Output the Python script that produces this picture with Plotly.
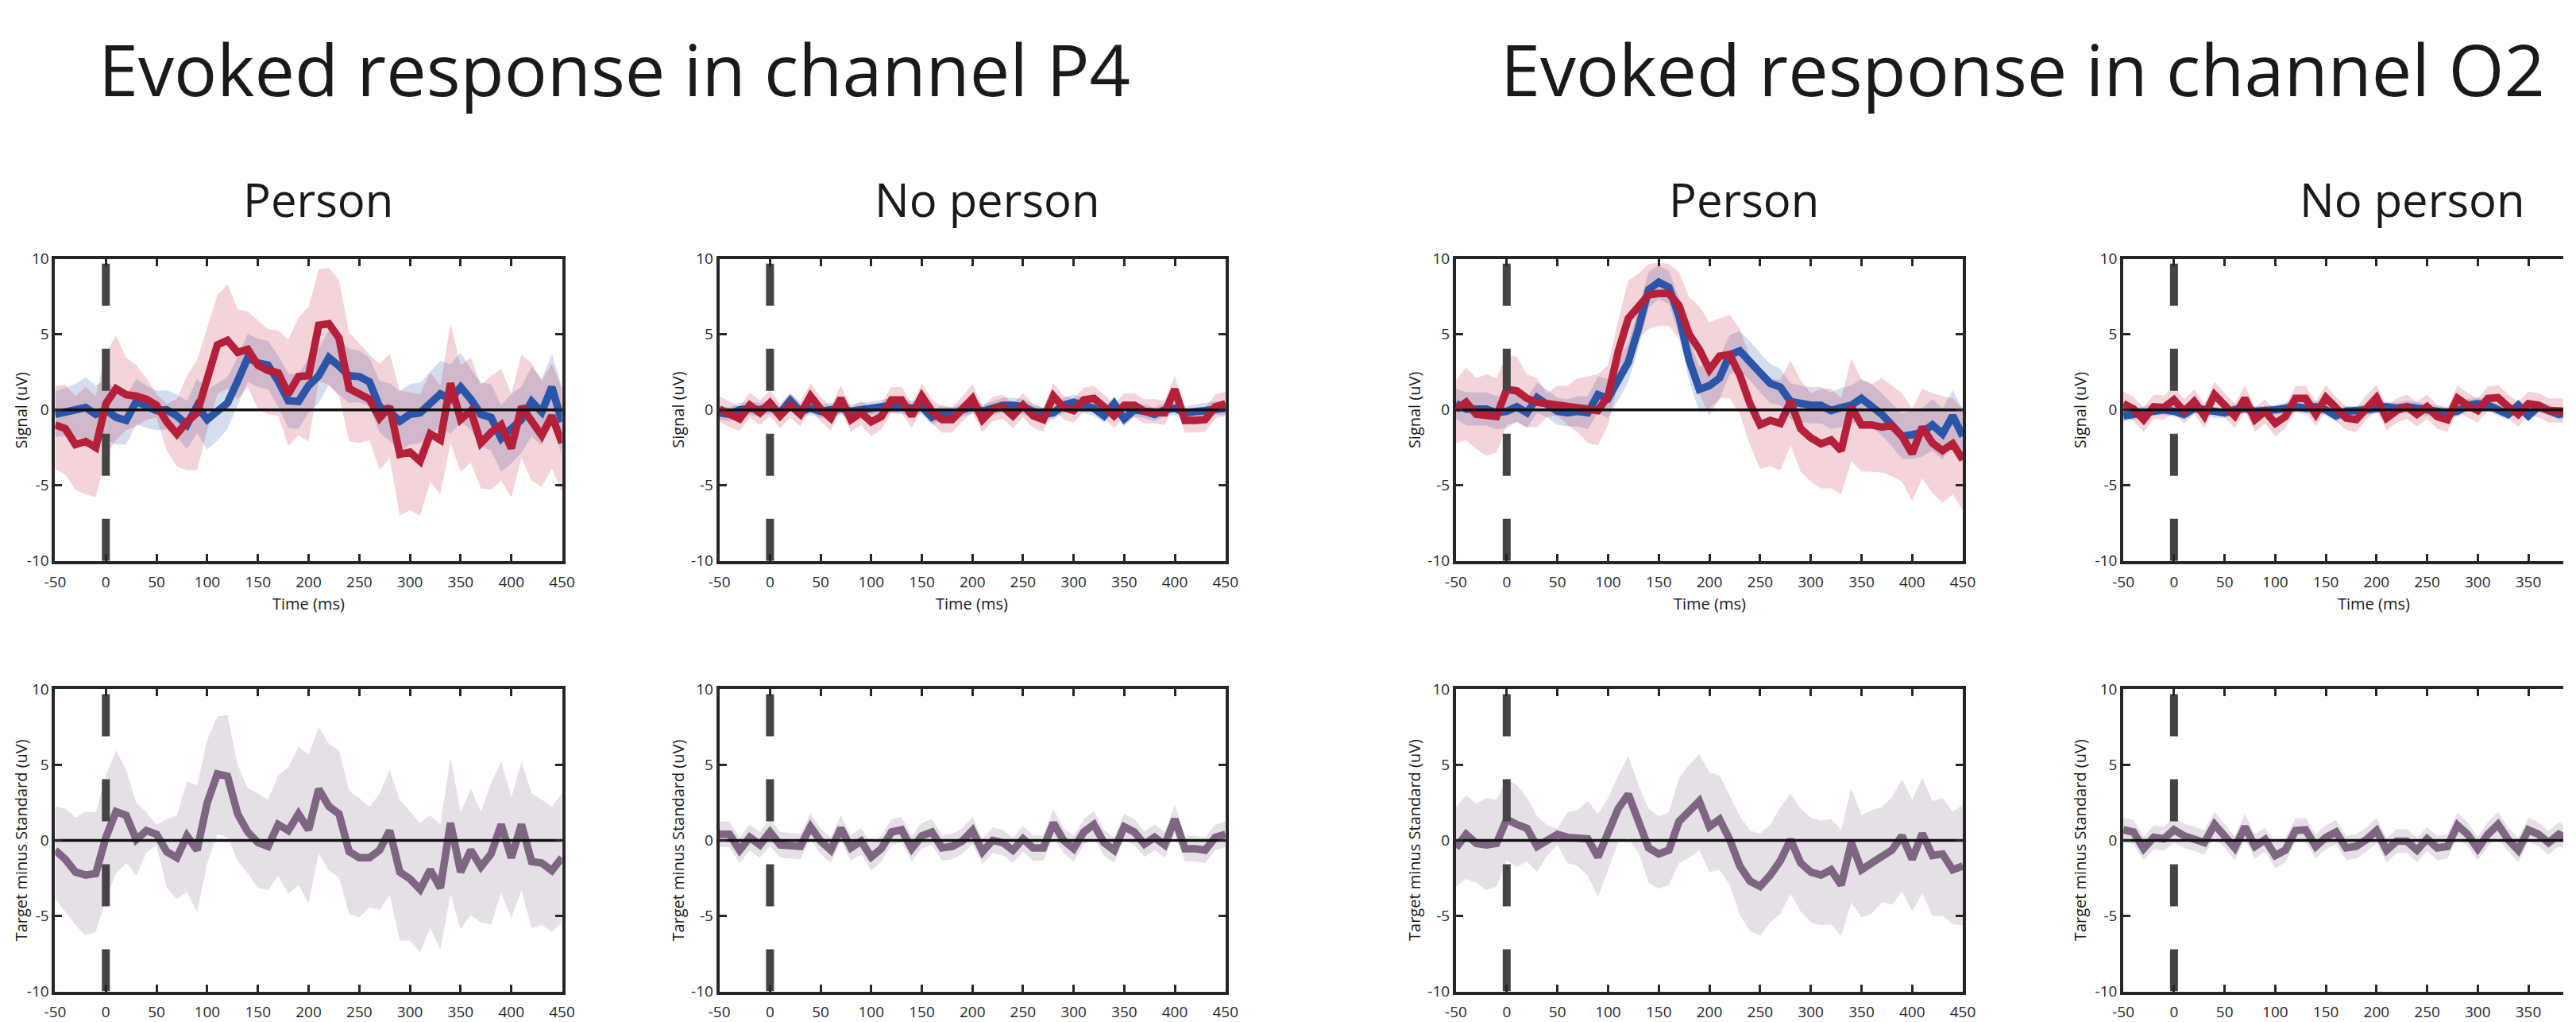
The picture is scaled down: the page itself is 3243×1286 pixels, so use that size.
import plotly.graph_objects as go

# ---------------- data ----------------
T = list(range(-50, 460, 10))          # 51 samples, -50..450 ms
T_CROP = list(range(-50, 400, 10))     # right-most panels are cut by the page edge

X_TICKS = [-50, 0, 50, 100, 150, 200, 250, 300, 350, 400, 450]
X_TICK_LABELS = ["-50", "0", "50", "100", "150", "200", "250", "300", "350", "400", "450"]
Y_TICKS = [-10, -5, 0, 5, 10]
Y_TICK_LABELS = ["-10", "-5", "0", "5", "10"]

ONSET_X = [0, 0]
ONSET_Y = [-10, 10]
ZERO_X = [-50, 450]
ZERO_Y = [0, 0]

# --- channel P4, Person ---
P4P_BLUE = [-0.3, -0.15, -0.1, 0.15, -0.3, 0.0, -0.5, -0.7, 0.55, 0.2,
            -0.05, 0.0, -0.4, -1.0, 0.25, -0.65, -0.15, 0.45, 1.9, 3.45,
            3.1, 2.95, 1.9, 0.6, 0.55, 1.6, 2.25, 3.45, 2.9, 2.25,
            2.2, 1.85, 0.2, -0.15, -0.75, -0.3, -0.2, 0.4, 1.05, 0.7,
            1.5, 0.7, -0.3, -0.5, -1.9, -1.25, -0.65, 0.55, -0.15, 1.5, -0.8]
P4P_BLUE_ERR = [1.5, 1.6, 1.8, 2.0, 1.9, 2.0, 1.8, 1.6, 1.5, 1.4,
                1.3, 1.3, 1.4, 1.6, 1.8, 2.0, 1.9, 1.7, 1.6, 1.6,
                1.6, 1.6, 1.7, 1.8, 1.8, 1.8, 1.8, 1.8, 1.9, 1.8,
                1.7, 1.6, 1.7, 1.9, 2.0, 2.0, 2.0, 2.1, 2.2, 2.3,
                2.3, 2.0, 2.1, 2.2, 2.2, 2.3, 2.2, 2.3, 2.2, 2.2, 2.3]
P4P_RED = [-1.0, -1.25, -2.3, -2.1, -2.5, 0.4, 1.4, 1.0, 0.9, 0.7,
           0.3, -0.8, -1.6, -0.8, -0.2, 2.1, 4.3, 4.6, 3.8, 4.0,
           2.95, 2.6, 2.45, 1.05, 2.2, 2.25, 5.6, 5.7, 4.75, 1.4,
           1.05, 0.7, -0.55, 0.2, -2.95, -2.8, -3.4, -1.6, -2.0, 1.75,
           -0.65, -0.05, -2.2, -1.5, -1.0, -2.55, 0.2, -0.65, -1.7, -0.4, -2.2]
P4P_RED_HI = [1.6, 1.65, 0.9, 1.5, 0.9, 3.8, 4.9, 3.45, 2.95, 2.1,
              1.05, 0.4, 0.7, 2.25, 3.3, 5.5, 7.6, 8.3, 6.65, 6.5,
              5.9, 5.35, 5.25, 4.65, 6.1, 6.8, 9.3, 9.4, 8.6, 5.1,
              4.4, 3.65, 3.05, 3.7, 1.25, 1.15, 1.05, 2.45, 1.6, 5.7,
              2.95, 3.45, 1.65, 2.25, 2.7, 1.05, 3.65, 3.1, 1.9, 3.05, 1.4]
P4P_RED_LO = [-3.9, -4.3, -5.3, -5.6, -5.8, -3.05, -2.0, -1.35, -1.1, -0.65,
              -0.5, -2.7, -3.75, -4.0, -4.0, -1.35, 1.05, 1.4, 0.7, 1.5,
              0.05, -0.3, -0.4, -2.4, -1.7, -2.1, 1.9, 1.65, 0.9, -2.1,
              -2.2, -2.0, -4.0, -3.2, -7.0, -6.65, -7.0, -4.8, -5.6, -2.2,
              -4.1, -3.5, -5.2, -5.3, -4.7, -5.8, -3.2, -4.7, -5.1, -3.9, -5.5]
P4P_DIFF = [-0.65, -1.25, -2.1, -2.3, -2.2, 0.2, 1.9, 1.65, 0.05, 0.65,
            0.4, -0.75, -1.15, 0.3, -0.65, 2.5, 4.4, 4.25, 1.75, 0.55,
            -0.15, -0.4, 1.05, 0.65, 1.75, 0.7, 3.4, 2.25, 1.75, -0.75,
            -1.15, -1.15, -0.65, 0.65, -2.1, -2.55, -3.25, -1.95, -3.15, 1.15,
            -2.1, -0.65, -1.75, -0.9, 1.05, -1.15, 1.05, -1.4, -1.5, -2.0, -1.15]
P4P_DIFF_HI = [2.25, 2.1, 1.5, 1.9, 1.85, 4.3, 5.95, 4.65, 2.5, 1.85,
               1.05, 1.4, 1.65, 3.9, 3.65, 6.65, 8.2, 8.3, 5.0, 3.45,
               3.1, 2.7, 4.3, 4.85, 6.2, 5.7, 7.5, 6.4, 5.95, 3.3,
               2.8, 2.2, 3.1, 4.65, 2.7, 1.9, 1.15, 1.65, 1.05, 5.5,
               1.85, 3.4, 1.9, 3.8, 5.2, 2.85, 5.2, 3.1, 2.7, 2.25, 3.1]
P4P_DIFF_LO = [-3.85, -4.7, -5.6, -6.3, -6.05, -3.9, -2.2, -1.5, -2.35, -0.8,
               -0.3, -3.15, -3.9, -3.4, -4.75, -1.5, 0.4, 0.2, -1.35, -2.2,
               -3.15, -3.3, -2.35, -3.55, -2.95, -4.15, -0.9, -2.0, -2.45, -4.85,
               -5.1, -4.45, -4.6, -3.65, -6.6, -6.65, -7.4, -5.8, -7.25, -3.55,
               -5.9, -4.95, -5.45, -5.55, -3.5, -5.1, -3.3, -5.8, -5.6, -6.05, -5.45]

# --- channel P4, No person ---
P4N_BLUE = [-0.2, -0.3, 0.0, 0.1, 0.0, 0.2, -0.2, 0.6, -0.1, 0.1,
            -0.1, 0.0, 0.1, -0.1, 0.0, 0.1, 0.2, 0.3, 0.2, 0.1,
            0.2, -0.5, -0.2, -0.3, 0.0, 0.2, -0.1, 0.1, 0.3, 0.3,
            0.2, -0.1, -0.3, -0.2, 0.3, 0.5, 0.3, 0.1, -0.4, 0.4,
            -0.6, 0.0, -0.1, -0.3, 0.0, 0.1, -0.2, -0.1, 0.0, 0.1, 0.1]
P4N_BLUE_ERR = [0.45, 0.45, 0.45, 0.45, 0.45, 0.45, 0.45, 0.5, 0.45, 0.45,
                0.45, 0.45, 0.45, 0.45, 0.45, 0.45, 0.45, 0.5, 0.5, 0.5,
                0.5, 0.5, 0.5, 0.45, 0.45, 0.45, 0.45, 0.45, 0.5, 0.5,
                0.5, 0.45, 0.45, 0.45, 0.5, 0.5, 0.5, 0.5, 0.45, 0.5,
                0.5, 0.45, 0.45, 0.45, 0.45, 0.45, 0.45, 0.45, 0.45, 0.45, 0.45]
P4N_RED = [0.05, -0.3, -0.6, 0.3, -0.2, 0.45, -0.4, 0.3, -0.3, 0.9,
           0.05, -0.55, 0.75, -0.65, -0.2, -0.8, -0.45, 0.65, 0.65, -0.4,
           0.9, -0.1, -0.65, -0.65, 0.05, 0.75, -0.65, 0.05, 0.2, -0.4,
           0.3, -0.4, -0.65, 0.9, 0.15, -0.05, 0.65, 0.75, 0.2, -0.4,
           0.3, 0.3, -0.1, -0.1, -0.2, 1.35, -0.7, -0.7, -0.65, 0.2, 0.4]
P4N_RED_ERR = [0.85, 0.85, 0.8, 0.85, 0.8, 0.85, 0.8, 0.8, 0.8, 0.85,
               0.8, 0.8, 0.85, 0.8, 0.8, 0.95, 0.85, 0.85, 0.85, 0.8,
               0.85, 0.8, 0.85, 0.85, 0.8, 0.95, 0.85, 0.8, 0.8, 0.8,
               0.8, 0.8, 0.8, 0.85, 0.8, 0.8, 0.8, 0.85, 0.8, 0.8,
               0.8, 0.8, 0.8, 0.8, 0.8, 0.9, 0.8, 0.8, 0.8, 0.8, 0.8]
P4N_DIFF = [0.4, 0.4, -0.65, 0.2, -0.3, 0.55, -0.3, -0.35, -0.4, 0.9,
            -0.05, -0.65, 0.8, -0.5, -0.05, -1.1, -0.55, 0.55, 0.7, -0.55,
            0.3, 0.55, -0.5, -0.4, -0.05, 0.65, -0.75, 0.0, -0.15, -0.65,
            0.1, -0.5, -0.5, 1.15, 0.0, -0.55, 0.55, 1.05, -0.15, -0.65,
            0.9, 0.55, -0.25, 0.2, -0.3, 1.4, -0.55, -0.55, -0.65, 0.2, 0.4]
P4N_DIFF_ERR = [0.85, 0.85, 0.85, 0.85, 0.85, 0.9, 0.85, 0.85, 0.85, 0.85,
                0.85, 0.85, 0.85, 0.85, 0.85, 0.9, 0.85, 0.85, 0.85, 0.85,
                0.85, 0.85, 0.85, 0.85, 0.85, 0.9, 0.85, 0.85, 0.85, 0.85,
                0.85, 0.85, 0.85, 0.9, 0.85, 0.85, 0.85, 0.9, 0.85, 0.85,
                0.85, 0.85, 0.85, 0.85, 0.85, 0.95, 0.85, 0.85, 0.85, 0.85, 0.85]

# --- channel O2, Person ---
O2P_BLUE = [0.4, 0.05, 0.05, 0.05, -0.2, -0.1, 0.2, -0.2, 0.8, 0.4,
            -0.1, -0.2, -0.1, -0.2, 1.0, 0.75, 1.95, 3.15, 5.4, 7.95,
            8.45, 8.1, 6.2, 3.3, 1.35, 1.6, 2.1, 3.65, 3.9, 3.25,
            2.45, 1.75, 1.5, 0.55, 0.4, 0.3, 0.3, -0.05, 0.15, 0.3,
            0.75, 0.3, -0.3, -1.0, -1.75, -1.65, -1.5, -1.0, -1.6, -0.4, -1.75]
O2P_BLUE_ERR = [1.0, 1.1, 1.1, 1.1, 1.1, 1.1, 1.0, 1.0, 1.0, 0.9,
                0.9, 0.9, 1.0, 1.1, 1.2, 1.3, 1.3, 1.3, 1.3, 1.2,
                1.1, 1.1, 1.2, 1.4, 1.5, 1.5, 1.4, 1.3, 1.3, 1.3,
                1.3, 1.3, 1.2, 1.2, 1.2, 1.2, 1.2, 1.2, 1.3, 1.3,
                1.3, 1.4, 1.4, 1.4, 1.5, 1.6, 1.6, 1.7, 1.7, 1.7, 1.8]
O2P_RED = [0.05, 0.5, -0.3, -0.4, -0.45, 1.35, 1.25, 0.75, 0.5, 0.4,
           0.3, 0.2, 0.15, 0.05, -0.05, 0.9, 3.85, 6.05, 6.9, 7.6,
           7.7, 7.7, 6.9, 5.0, 4.0, 2.65, 3.55, 3.65, 2.3, 0.4,
           -1.0, -0.7, -0.9, 0.55, -1.25, -1.85, -2.25, -2.0, -2.7, 0.2,
           -1.0, -1.0, -1.15, -1.05, -1.75, -2.9, -1.15, -2.2, -2.7, -2.25, -3.3]
O2P_RED_HI = [1.95, 2.8, 2.1, 2.35, 2.1, 3.65, 3.5, 2.35, 2.1, 1.1,
              1.6, 1.6, 2.1, 2.2, 2.35, 2.95, 5.9, 8.55, 9.0, 9.65,
              9.75, 9.65, 9.1, 7.45, 6.85, 5.8, 6.05, 6.3, 5.35, 3.5,
              2.3, 2.0, 2.0, 3.25, 1.95, 1.1, 1.4, 1.4, 0.75, 3.4,
              1.95, 1.7, 2.1, 1.6, 1.1, 0.05, 1.4, 1.1, 0.9, 0.75, 0.05]
O2P_RED_LO = [-2.2, -2.0, -2.6, -3.05, -2.85, -1.0, -0.8, -1.15, -1.15, -0.45,
              -0.4, -1.0, -1.5, -2.2, -2.35, -1.0, 1.75, 3.65, 4.7, 5.35,
              5.55, 5.55, 4.7, 2.65, 1.1, -0.4, 0.75, 0.75, -0.3, -2.35,
              -3.9, -3.75, -4.0, -2.35, -4.1, -4.75, -5.2, -5.2, -5.6, -3.4,
              -4.1, -4.1, -4.15, -4.4, -4.75, -6.05, -4.55, -5.5, -6.15, -5.6, -6.65]
O2P_DIFF = [-0.5, 0.4, -0.2, -0.3, -0.2, 1.4, 1.05, 0.8, -0.4, 0.05,
            0.4, 0.2, 0.1, 0.1, -1.1, 0.4, 2.1, 3.05, 1.4, -0.5,
            -0.9, -0.65, 1.25, 1.9, 2.6, 0.9, 1.4, 0.05, -1.7, -2.7,
            -3.05, -2.3, -1.35, 0.05, -1.5, -2.1, -2.3, -1.95, -2.95, -0.15,
            -1.95, -1.5, -1.0, -0.65, 0.3, -1.25, 0.45, -1.0, -0.9, -1.95, -1.7]
O2P_DIFF_HI = [2.25, 2.95, 2.45, 2.8, 2.7, 4.05, 3.65, 2.85, 1.6, 1.0,
               0.8, 1.85, 2.0, 2.6, 1.75, 2.8, 4.3, 5.6, 3.65, 2.1,
               1.6, 1.85, 4.15, 5.0, 5.7, 4.5, 4.3, 2.95, 1.6, 0.65,
               0.45, 1.05, 2.2, 3.1, 2.1, 1.5, 1.3, 1.4, 0.7, 3.45,
               1.65, 2.0, 2.2, 2.85, 4.05, 2.7, 4.15, 2.6, 2.8, 1.9, 2.35]
O2P_DIFF_LO = [-3.05, -2.55, -2.8, -3.3, -3.05, -1.35, -1.75, -1.4, -2.1, -1.0,
               -0.3, -1.5, -1.7, -2.35, -3.75, -1.95, -0.15, 0.2, -0.8, -2.8,
               -3.2, -2.95, -1.5, -1.15, -0.65, -2.1, -1.95, -2.95, -4.95, -6.0,
               -6.3, -5.45, -4.85, -3.55, -4.7, -5.45, -5.6, -5.55, -6.3, -4.1,
               -5.1, -4.85, -4.1, -4.25, -3.4, -4.7, -3.5, -5.0, -5.0, -5.55, -5.6]

# --- channel O2, No person (only -50..390 ms is visible on the page) ---
O2N_BLUE = [-0.4, -0.3, -0.1, 0.0, 0.0, -0.1, -0.3, 0.1, 0.0, -0.2,
            -0.2, 0.0, 0.1, -0.1, -0.1, 0.0, 0.1, 0.2, 0.1, 0.2,
            0.0, -0.4, -0.1, -0.1, 0.0, 0.1, 0.2, 0.1, 0.2, 0.1,
            0.0, -0.1, -0.2, -0.1, 0.3, 0.4, 0.3, 0.0, -0.3, 0.3,
            -0.4, 0.2, 0.0, -0.3, -0.2]
O2N_BLUE_ERR = [0.35, 0.35, 0.35, 0.35, 0.35, 0.35, 0.35, 0.35, 0.35, 0.35,
                0.35, 0.35, 0.35, 0.35, 0.35, 0.35, 0.35, 0.4, 0.4, 0.4,
                0.4, 0.4, 0.35, 0.35, 0.35, 0.35, 0.35, 0.35, 0.4, 0.4,
                0.4, 0.35, 0.35, 0.35, 0.4, 0.4, 0.4, 0.4, 0.35, 0.4,
                0.4, 0.35, 0.35, 0.35, 0.35]
O2N_RED = [0.4, 0.05, -0.65, 0.2, 0.15, 0.65, -0.1, 0.55, -0.4, 1.0,
           0.3, -0.4, 0.75, -0.65, -0.1, -0.9, -0.45, 0.75, 0.75, -0.3,
           0.8, 0.05, -0.55, -0.65, 0.15, 0.8, -0.55, -0.05, 0.2, -0.3,
           0.2, -0.45, -0.65, 0.75, 0.3, -0.05, 0.75, 0.8, 0.2, -0.3,
           0.4, 0.3, -0.05, -0.05, -0.1]
O2N_RED_ERR = [0.8, 0.8, 0.8, 0.8, 0.8, 0.85, 0.8, 0.8, 0.8, 0.85,
               0.8, 0.8, 0.85, 0.8, 0.8, 0.85, 0.8, 0.8, 0.85, 0.8,
               0.85, 0.8, 0.8, 0.8, 0.8, 0.85, 0.8, 0.8, 0.8, 0.8,
               0.8, 0.8, 0.8, 0.85, 0.8, 0.8, 0.8, 0.85, 0.8, 0.8,
               0.8, 0.8, 0.8, 0.8, 0.8]
O2N_DIFF = [0.7, 0.55, -0.55, 0.2, 0.1, 0.7, 0.3, 0.1, -0.15, 1.05,
            0.3, -0.5, 0.9, -0.4, 0.05, -1.0, -0.65, 0.65, 0.7, -0.4,
            0.2, 0.55, -0.5, -0.4, 0.05, 0.65, -0.65, -0.05, -0.05, -0.65,
            0.1, -0.5, -0.4, 1.0, 0.4, -0.55, 0.4, 1.05, 0.05, -0.65,
            0.7, 0.4, -0.15, 0.4, 0.1]
O2N_DIFF_ERR = [0.8, 0.8, 0.8, 0.8, 0.8, 0.85, 0.8, 0.8, 0.8, 0.85,
                0.8, 0.8, 0.85, 0.8, 0.8, 0.85, 0.8, 0.8, 0.8, 0.8,
                0.8, 0.8, 0.8, 0.8, 0.8, 0.85, 0.8, 0.8, 0.8, 0.8,
                0.8, 0.8, 0.8, 0.85, 0.8, 0.8, 0.8, 0.85, 0.8, 0.8,
                0.8, 0.8, 0.8, 0.8, 0.8]

TITLES = ["Evoked response in channel P4", "Evoked response in channel O2"]
SUBTITLES = ["Person", "No person", "Person", "No person"]
X_TITLE = "Time (ms)"
Y_TITLE_TOP = "Signal (uV)"
Y_TITLE_BOTTOM = "Target minus Standard (uV)"

# ---------------- style / layout ----------------
W, H = 3243, 1286
FONT = "Open Sans"
INK = "#262626"
BLUE = "#2A55A8"
RED = "#B51F3A"
PURPLE = "#7E6582"
BLUE_FILL = "rgba(42,85,168,0.20)"
RED_FILL = "rgba(190,40,65,0.20)"
PURPLE_FILL = "rgba(126,101,130,0.20)"
MEAN_WIDTH = 9.5

# panel pixel boxes (left, right) and rows (top, bottom)
COLS = [(56, 700), (900, 1543), (1836, 2480), (2684, 3243)]
X_RANGES = [[-50, 450], [-50, 450], [-50, 450], [-50, 384.5]]
ROWS = [(319, 707), (872, 1260)]
Y_TITLE_X = [13, 847, 1783, 2629]


def px_x(v):
    return v / W


def px_y(v):
    return 1 - v / H


def lo_hi(mean, err):
    return [m - e for m, e in zip(mean, err)], [m + e for m, e in zip(mean, err)]


fig = go.Figure()


def band(t, lo, hi, color, ax):
    fig.add_trace(go.Scatter(x=list(t) + list(t)[::-1], y=list(hi) + list(lo)[::-1],
                             fill="toself", fillcolor=color, line=dict(width=0),
                             mode="lines", hoverinfo="skip", showlegend=False,
                             xaxis="x" + ax, yaxis="y" + ax))


def line(t, y, color, width, ax, dash=None):
    fig.add_trace(go.Scatter(x=t, y=y, mode="lines",
                             line=dict(color=color, width=width, dash=dash),
                             showlegend=False, xaxis="x" + ax, yaxis="y" + ax))


def guides(ax):
    line(ZERO_X, ZERO_Y, "#111111", 3.5, ax)
    line(ONSET_X, ONSET_Y, "#444444", 10, ax, dash="53px,54px")


top_panels = [
    (T, P4P_BLUE, lo_hi(P4P_BLUE, P4P_BLUE_ERR), P4P_RED, (P4P_RED_LO, P4P_RED_HI)),
    (T, P4N_BLUE, lo_hi(P4N_BLUE, P4N_BLUE_ERR), P4N_RED, lo_hi(P4N_RED, P4N_RED_ERR)),
    (T, O2P_BLUE, lo_hi(O2P_BLUE, O2P_BLUE_ERR), O2P_RED, (O2P_RED_LO, O2P_RED_HI)),
    (T_CROP, O2N_BLUE, lo_hi(O2N_BLUE, O2N_BLUE_ERR), O2N_RED, lo_hi(O2N_RED, O2N_RED_ERR)),
]
bottom_panels = [
    (T, P4P_DIFF, (P4P_DIFF_LO, P4P_DIFF_HI)),
    (T, P4N_DIFF, lo_hi(P4N_DIFF, P4N_DIFF_ERR)),
    (T, O2P_DIFF, (O2P_DIFF_LO, O2P_DIFF_HI)),
    (T_CROP, O2N_DIFF, lo_hi(O2N_DIFF, O2N_DIFF_ERR)),
]

for i, (t, b, (blo, bhi), r, (rlo, rhi)) in enumerate(top_panels):
    ax = str(i + 1) if i else ""
    band(t, blo, bhi, BLUE_FILL, ax)
    band(t, rlo, rhi, RED_FILL, ax)
    line(t, b, BLUE, MEAN_WIDTH, ax)
    line(t, r, RED, MEAN_WIDTH, ax)
    guides(ax)

for i, (t, d, (dlo, dhi)) in enumerate(bottom_panels):
    ax = str(i + 5)
    band(t, dlo, dhi, PURPLE_FILL, ax)
    line(t, d, PURPLE, MEAN_WIDTH, ax)
    guides(ax)

tick_font = dict(family=FONT, size=19, color=INK)
layout = dict(width=W, height=H, margin=dict(l=0, r=0, t=0, b=0),
              paper_bgcolor="white", plot_bgcolor="white", showlegend=False)

for row in range(2):
    for col in range(4):
        n = row * 4 + col + 1
        key = "" if n == 1 else str(n)
        left, right = COLS[col]
        top, bottom = ROWS[row]
        last = col == 3
        layout["xaxis" + key] = dict(
            domain=[px_x(left), px_x(right)], range=X_RANGES[col],
            anchor="y" + key, tickvals=X_TICKS, ticktext=X_TICK_LABELS,
            ticks="inside", ticklen=9, tickwidth=3, tickcolor=INK,
            showline=True, linewidth=4, linecolor=INK, mirror="ticks",
            showgrid=False, zeroline=False, tickfont=tick_font,
            ticklabelstandoff=6,
            layer="above traces", fixedrange=True)
        layout["yaxis" + key] = dict(
            domain=[px_y(bottom), px_y(top)], range=[-10, 10],
            anchor="x" + key, tickvals=Y_TICKS, ticktext=Y_TICK_LABELS,
            ticks="inside", ticklen=9, tickwidth=3, tickcolor=INK,
            showline=True, linewidth=4, linecolor=INK,
            mirror=False if last else "ticks",
            showgrid=False, zeroline=False, tickfont=tick_font,
            layer="above traces", fixedrange=True)

ann = []
for txt, cx in zip(TITLES, [767, 2556]):
    ann.append(dict(text=txt, x=px_x(cx), y=px_y(74), xref="paper", yref="paper",
                    xanchor="center", yanchor="middle", showarrow=False,
                    font=dict(family=FONT, size=90, color="#1a1a1a")))
for txt, cx in zip(SUBTITLES, [390, 1240, 2202, 3051]):
    ann.append(dict(text=txt, x=px_x(cx), y=px_y(242), xref="paper", yref="paper",
                    xanchor="center", yanchor="middle", showarrow=False,
                    font=dict(family=FONT, size=58, color="#1a1a1a")))
for cx in [378, 1221, 2158, 3002]:
    ann.append(dict(text=X_TITLE, x=px_x(cx), y=px_y(762), xref="paper", yref="paper",
                    xanchor="center", yanchor="middle", showarrow=False,
                    font=dict(family=FONT, size=20, color="#1a1a1a")))
for row, txt in enumerate([Y_TITLE_TOP, Y_TITLE_BOTTOM]):
    top, bottom = ROWS[row]
    for cx in Y_TITLE_X:
        ann.append(dict(text=txt, x=px_x(cx), y=px_y((top + bottom) / 2),
                        xref="paper", yref="paper", xanchor="center", yanchor="middle",
                        textangle=-90, showarrow=False,
                        font=dict(family=FONT, size=20, color="#1a1a1a")))
layout["annotations"] = ann

fig.update_layout(**layout)
fig.write_html("out.html")
